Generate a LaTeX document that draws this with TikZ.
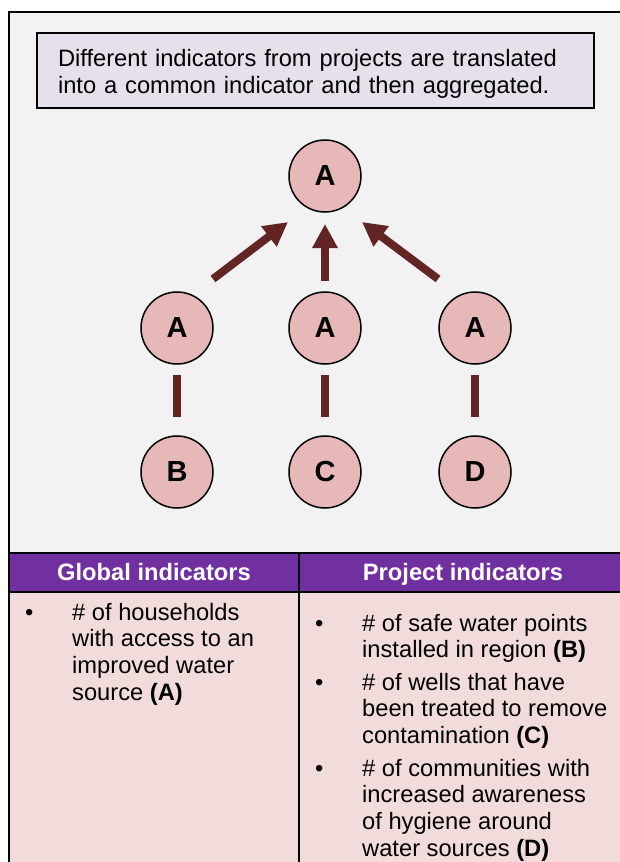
\documentclass[tikz,border=0pt]{standalone}
\usepackage{fontspec}
\setmainfont{Liberation Sans}
\usepackage{xcolor}
\usetikzlibrary{arrows.meta,positioning,calc}
\definecolor{panel}{HTML}{F2F2F2}
\definecolor{lilac}{HTML}{E5E0EC}
\definecolor{plum}{HTML}{7030A0}
\definecolor{blush}{HTML}{F2DCDB}
\definecolor{rose}{HTML}{E6B9B8}
\definecolor{maroon}{HTML}{632523}
\newcommand{\bitem}[2][230pt]{\makebox[47pt][l]{\textbullet}\parbox[t]{#1}{#2}}
\tikzset{
  frame/.style={draw=black,line width=2pt},
  note/.style={draw=black,fill=lilac,line width=2pt,minimum width=557pt,minimum height=75pt},
  notetxt/.style={align=left,text width=515pt,inner sep=0pt,font=\fontsize{23.7}{27}\selectfont},
  ind/.style={circle,draw=black,fill=rose,line width=1.5pt,minimum size=72pt,inner sep=0pt,font=\fontsize{29}{29}\selectfont\bfseries},
  up/.style={-{Triangle[length=24pt,width=24pt]},line width=8pt,color=maroon},
  link/.style={line width=8pt,color=maroon},
  colhead/.style={anchor=base,font=\fontsize{23.7}{26}\selectfont\bfseries,text=white},
  cell/.style={anchor=base west,inner sep=0pt,font=\fontsize{23.7}{26.7}\selectfont},
}

\begin{document}
\begin{tikzpicture}[x=1pt,y=-1pt]
\useasboundingbox (0,0) rectangle (620,862);
\clip (0,0) rectangle (620,862);
% panel
\draw[frame,fill=panel] (9,12) rectangle (630,875);
\node[note] (msg) at (315.5,70.5) {};
\node[notetxt] (msgtxt) at ([yshift=-3pt]msg.center) {Different indicators from projects are translated\\into a common indicator and then aggregated.};
% common indicator
\node[ind] (top) at (325,176) {A};
\node[ind] (ga) at (177,328) {A};
\node[ind,right=74.5pt of ga] (gb) {A};
\node[ind,right=76.5pt of gb] (gc) {A};
% project indicators
\node[ind,below=70.5pt of ga] (pb) {B};
\node[ind,below=70.5pt of gb] (pc) {C};
\node[ind,below=70.5pt of gc] (pd) {D};
\draw[up] ([shift={(36,-49)}]ga.center) -- ([shift={(-37,46)}]top.center);
\draw[up] ([shift={(0,-47)}]gb.center) -- ([shift={(0,48)}]top.center);
\draw[up] ([shift={(-37,-49)}]gc.center) -- ([shift={(37,46)}]top.center);
\draw[link] ([shift={(0,47)}]ga.center) -- ([shift={(0,-55)}]pb.center);
\draw[link] ([shift={(0,47)}]gb.center) -- ([shift={(0,-55)}]pc.center);
\draw[link] ([shift={(0,47)}]gc.center) -- ([shift={(0,-55)}]pd.center);
% table
\draw[frame,fill=blush] (9,592) rectangle (630,875);
\draw[frame,fill=plum] (9,553) rectangle (630,592);
\draw[frame] (299,553) -- (299,875);
\node[colhead] (gh) at (154,580) {Global indicators};
\node[colhead] (ph) at (463,580) {Project indicators};
\node[cell] (g1) at (25,620) {\bitem[225pt]{\# of households\\with access to an\\improved water\\source \textbf{(A)}}};
\node[cell] (p1) at (315,631) {\bitem[258pt]{\# of safe water points\\installed in region \textbf{(B)}}};
\node[cell] (p2) at (315,690) {\bitem[258pt]{\# of wells that have\\been treated to remove\\contamination \textbf{(C)}}};
\node[cell] (p3) at (315,776) {\bitem[258pt]{\# of communities with\\increased awareness\\of hygiene around\\water sources \textbf{(D)}}};
\end{tikzpicture}
\end{document}
